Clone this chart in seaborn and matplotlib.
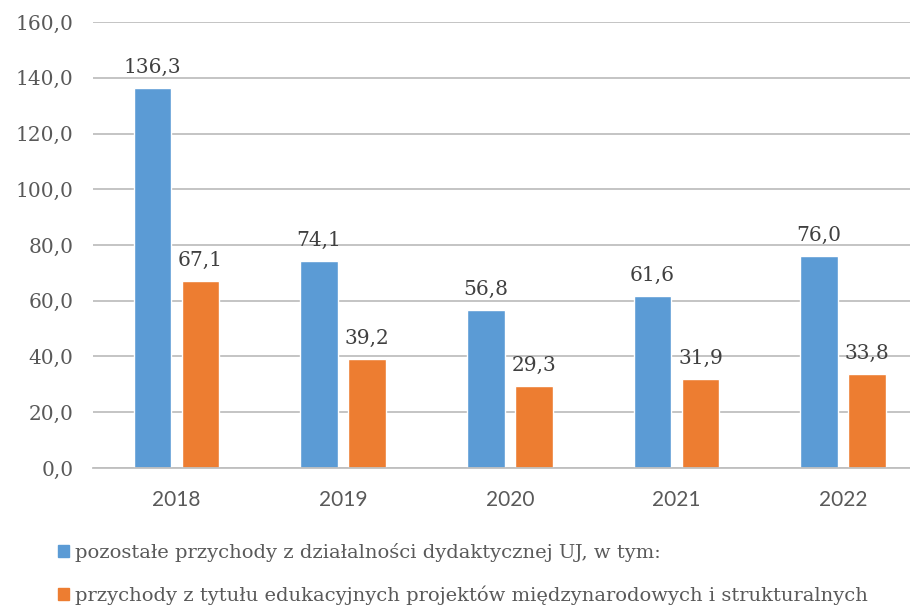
import matplotlib
matplotlib.use("Agg")
import matplotlib.pyplot as plt
import matplotlib.patches as mpatches
import seaborn as sns
import pandas as pd

years = ["2018", "2019", "2020", "2021", "2022"]
series_names = [
    "pozostałe przychody z działalności dydaktycznej UJ, w tym:",
    "przychody z tytułu edukacyjnych projektów międzynarodowych i strukturalnych",
]
values_a = [136.3, 74.1, 56.8, 61.6, 76.0]
values_b = [67.1, 39.2, 29.3, 31.9, 33.8]
y_ticks = [0, 20, 40, 60, 80, 100, 120, 140, 160]
colors = ["#5B9BD5", "#ED7D31"]

df = pd.DataFrame({
    "rok": years * 2,
    "seria": [series_names[0]] * 5 + [series_names[1]] * 5,
    "wartosc": values_a + values_b,
})

sns.set_theme(style="white")
serif = ["DejaVu Serif"]
sans = ["Lato", "DejaVu Sans"]

fig = plt.figure(figsize=(9.1, 6.08), dpi=100)
ax = fig.add_axes([0.1022, 0.2303, 0.916, 0.7335])

sns.barplot(data=df, x="rok", y="wartosc", hue="seria", palette=colors,
            width=0.576, gap=0.22, ax=ax, legend=False, saturation=1)

ax.set_xlim(-0.5, 4.5)
ax.set_ylim(0, 160)
ax.set_yticks(y_ticks)
ax.set_yticklabels([f"{v:.1f}".replace(".", ",") for v in y_ticks],
                   fontfamily=serif, fontsize=14.5, color="#595959")
for lab in ax.get_xticklabels():
    lab.set_fontfamily(sans)
    lab.set_fontsize(15)
    lab.set_color("#595959")
ax.set_xlabel("")
ax.set_ylabel("")
ax.yaxis.grid(True, color="#BFBFBF", linewidth=1.3)
ax.set_axisbelow(True)
for s in ["top", "right", "left"]:
    ax.spines[s].set_visible(False)
ax.spines["bottom"].set_color("#BFBFBF")
ax.spines["bottom"].set_linewidth(1.3)
ax.tick_params(axis="both", length=0)
ax.tick_params(axis="y", pad=14)
ax.tick_params(axis="x", pad=16)

for cont, vals in zip(ax.containers, [values_a, values_b]):
    ax.bar_label(cont, labels=[f"{v:.1f}".replace(".", ",") for v in vals],
                 padding=8, fontfamily=serif, fontsize=14.5, color="#404040")

handles = [mpatches.Patch(color=c) for c in colors]
fig.legend(handles, series_names, loc="upper left", bbox_to_anchor=(0.055, 0.12),
           frameon=False, prop={"family": serif, "size": 14}, labelcolor="#595959",
           handlelength=0.6, handleheight=0.6, handletextpad=0.3, labelspacing=1.2,
           borderaxespad=0)

fig.savefig("out.png", dpi=100)
